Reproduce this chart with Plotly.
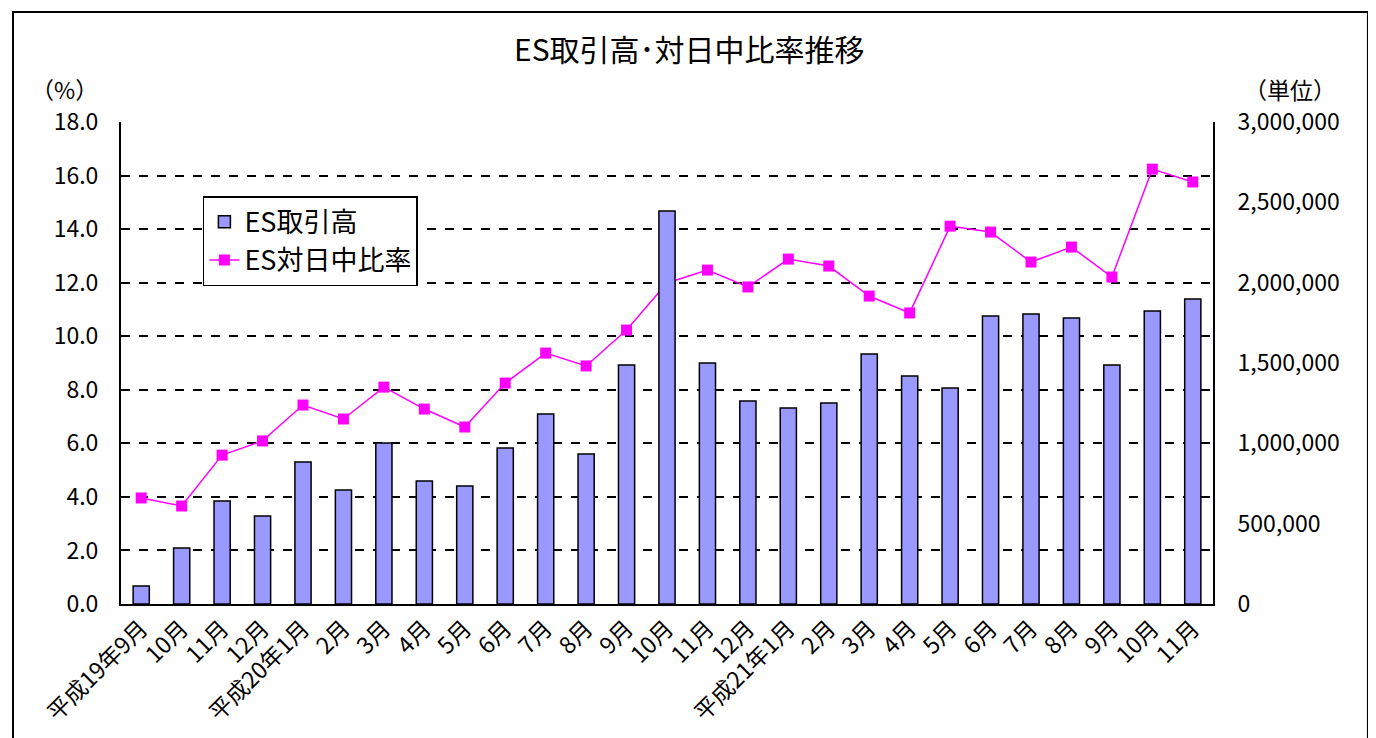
import plotly.graph_objects as go

# month labels (平成19年9月 - 平成21年11月)
months = [
    "平成19年9月", "10月", "11月", "12月",
    "平成20年1月", "2月", "3月", "4月", "5月", "6月", "7月", "8月", "9月", "10月", "11月", "12月",
    "平成21年1月", "2月", "3月", "4月", "5月", "6月", "7月", "8月", "9月", "10月", "11月",
]

# ES取引高 (units)
volume = [
    112000, 348000, 641000, 548000,
    884000, 709000, 1002000, 765000, 734000, 971000, 1182000, 933000, 1487000, 2446000, 1500000, 1263000,
    1220000, 1251000, 1556000, 1419000, 1344000, 1792000, 1805000, 1780000, 1487000, 1823000, 1898000,
]

# ES対日中比率 (%)
ratio = [
    3.96, 3.66, 5.56, 6.09,
    7.43, 6.91, 8.10, 7.28, 6.61, 8.25, 9.37, 8.89, 10.23, 11.99, 12.47, 11.84,
    12.88, 12.62, 11.50, 10.87, 14.11, 13.89, 12.77, 13.33, 12.21, 16.24, 15.76,
]

x = list(range(len(months)))
font_family = "Noto Sans CJK JP"

fig = go.Figure()
fig.add_trace(go.Bar(
    x=x, y=volume, name="ES取引高", yaxis="y2", width=0.4,
    marker=dict(color="#9999FF", line=dict(color="black", width=1.5)),
))
fig.add_trace(go.Scatter(
    x=x, y=ratio, name="ES対日中比率", mode="lines+markers",
    line=dict(color="#FF00FF", width=1.5),
    marker=dict(symbol="square", size=11, color="#FF00FF"),
))

# the page body adds 8px, so margins are trimmed to keep the plot where it belongs
fig.update_layout(
    width=1376, height=738,
    margin=dict(l=113, r=171, t=114, b=142),
    plot_bgcolor="white", paper_bgcolor="white",
    font=dict(family=font_family, size=23, color="black"),
    xaxis=dict(
        tickmode="array", tickvals=x, ticktext=months, tickangle=-45,
        range=[-0.5, len(months) - 0.5], automargin=False,
        showline=True, linecolor="black", linewidth=2, showgrid=False,
        ticks="", tickfont=dict(size=23),
    ),
    yaxis=dict(
        range=[0, 18], dtick=2, tickformat=".1f", automargin=False,
        showline=True, linecolor="black", linewidth=2,
        showgrid=True, gridcolor="black", griddash="dash", gridwidth=1.5,
        ticks="inside", ticklen=8, tickcolor="black", tickwidth=1.5,
        ticklabelstandoff=16, zeroline=False,
    ),
    yaxis2=dict(
        range=[0, 3000000], dtick=500000, tickformat=",", automargin=False,
        overlaying="y", side="right",
        showline=True, linecolor="black", linewidth=2,
        showgrid=False, ticks="", ticklabelstandoff=18, zeroline=False,
    ),
    legend=dict(
        x=0.075, y=0.846, xanchor="left", yanchor="top",
        bgcolor="white", bordercolor="black", borderwidth=1.5,
        font=dict(size=27), traceorder="normal",
    ),
    bargap=0.6,
)

fig.add_annotation(text="ES取引高･対日中比率推移", xref="paper", yref="paper",
                   x=0.521, y=1.153, xanchor="center", yanchor="middle",
                   showarrow=False, font=dict(size=30))
fig.add_annotation(text="（%）", xref="paper", yref="paper",
                   x=-0.0513, y=1.068, xanchor="center", yanchor="middle",
                   showarrow=False, font=dict(size=23))
fig.add_annotation(text="（単位）", xref="paper", yref="paper",
                   x=1.0705, y=1.068, xanchor="center", yanchor="middle",
                   showarrow=False, font=dict(size=23))

# outer chart border
fig.add_shape(type="rect", xref="paper", yref="paper",
              x0=-0.0989, x1=1.1419, y0=-0.3, y1=1.228,
              line=dict(color="black", width=2))

fig.write_html("out.html")
